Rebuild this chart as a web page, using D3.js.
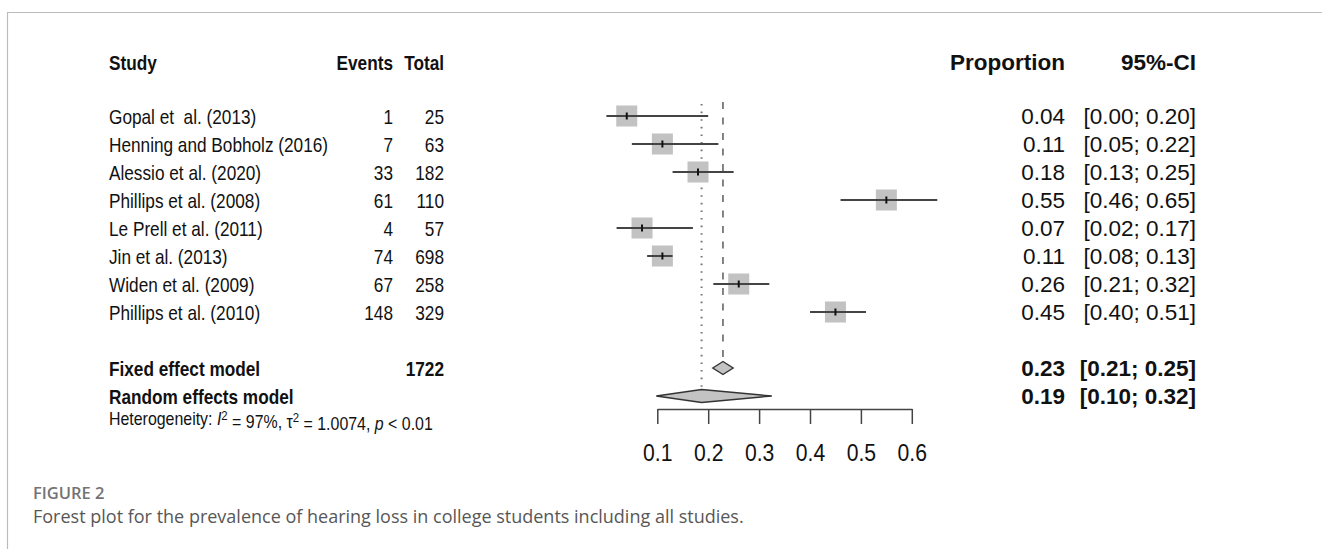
<!DOCTYPE html>
<html>
<head>
<meta charset="utf-8">
<script src="https://cdn.jsdelivr.net/npm/d3@7"></script>
<style>
  html, body { margin: 0; padding: 0; background: #fff; }
  svg text { white-space: pre; }
</style>
</head>
<body>
<svg id="chart" width="1322" height="549"></svg>
<script>
// study-level data
const studies = ["Gopal et  al. (2013)", "Henning and Bobholz (2016)", "Alessio et al. (2020)",
    "Phillips et al. (2008)", "Le Prell et al. (2011)", "Jin et al. (2013)",
    "Widen et al. (2009)", "Phillips et al. (2010)"];
const events = [1, 7, 33, 61, 4, 74, 67, 148];
const totals = [25, 63, 182, 110, 57, 698, 258, 329];
const proportion = [0.04, 0.11, 0.18, 0.55, 0.07, 0.11, 0.26, 0.45];
const ciLower = [0.00, 0.05, 0.13, 0.46, 0.02, 0.08, 0.21, 0.40];
const ciUpper = [0.20, 0.22, 0.25, 0.65, 0.17, 0.13, 0.32, 0.51];

// pooled estimates
const models = ["Fixed effect model", "Random effects model"];
const modelEst = [0.229, 0.187];
const modelLower = [0.209, 0.098];
const modelUpper = [0.249, 0.325];
const modelLabel = ["0.23", "0.19"];
const modelCI = ["[0.21; 0.25]", "[0.10; 0.32]"];
const totalN = 1722;

const axisTicks = [0.1, 0.2, 0.3, 0.4, 0.5, 0.6];

const svg = d3.select("#chart");
const font = "'Liberation Sans', Arial, sans-serif";
const fsLeft = 21, sxLeft = 0.82;   // left table is squeezed horizontally
const fsRight = 22.5;

// frame lines
svg.append("line").attr("x1", 7).attr("x2", 1322).attr("y1", 12.5).attr("y2", 12.5)
    .attr("stroke", "#bcbcbc").attr("stroke-width", 1.2);
svg.append("line").attr("x1", 7.5).attr("x2", 7.5).attr("y1", 12).attr("y2", 549)
    .attr("stroke", "#bcbcbc").attr("stroke-width", 1.2);

const x = d3.scaleLinear().domain([0.1, 0.6]).range([657.3, 911.8]);
const y = d3.scaleLinear().domain([0, 1]).range([116, 144]); // row index -> y
const yFixed = 368, yRandom = 396, yHead = 62;

const g = svg.append("g").style("font-family", font).attr("fill", "#111");

// left-hand text, condensed
function ltxt(xp, yp, s, anchor, bold) {
    return g.append("text")
        .attr("transform", `translate(${xp},${yp}) scale(${sxLeft},1)`)
        .attr("dy", "0.36em")
        .style("font-size", fsLeft + "px")
        .attr("text-anchor", anchor || "start")
        .attr("font-weight", bold ? "bold" : null)
        .text(s);
}
// right-hand text
function rtxt(xp, yp, s, bold) {
    return g.append("text").attr("x", xp).attr("y", yp).attr("dy", "0.36em")
        .style("font-size", fsRight + "px")
        .attr("text-anchor", "end")
        .attr("font-weight", bold ? "bold" : null)
        .text(s);
}

// headers
ltxt(109, yHead, "Study", "start", true);
ltxt(393, yHead, "Events", "end", true);
ltxt(444, yHead, "Total", "end", true);
rtxt(1065, yHead, "Proportion", true);
rtxt(1196, yHead, "95%-CI", true);

const fmt = d3.format(".2f");

studies.forEach((s, i) => {
    const yy = y(i);
    ltxt(109, yy, s);
    ltxt(393, yy, events[i], "end");
    ltxt(444, yy, totals[i], "end");
    rtxt(1065, yy, fmt(proportion[i]));
    rtxt(1196, yy, "[" + fmt(ciLower[i]) + "; " + fmt(ciUpper[i]) + "]");
});

// pooled rows text
[yFixed, yRandom].forEach((yy, i) => {
    ltxt(109, yy, models[i], "start", true);
    rtxt(1065, yy, modelLabel[i], true);
    rtxt(1196, yy, modelCI[i], true);
});
ltxt(444, yFixed, totalN, "end", true);

// heterogeneity line
const het = g.append("text")
    .attr("transform", "translate(109,419) scale(0.91,1)")
    .attr("dy", "0.36em")
    .style("font-size", "17.5px");
het.append("tspan").text("Heterogeneity: ");
het.append("tspan").attr("font-style", "italic").text("I");
het.append("tspan").attr("dy", "-0.45em").style("font-size", "12.5px").text("2");
het.append("tspan").attr("dy", "0.45em").text(" = 97%, \u03c4");
het.append("tspan").attr("dy", "-0.45em").style("font-size", "12.5px").text("2");
het.append("tspan").attr("dy", "0.45em").text(" = 1.0074, ");
het.append("tspan").attr("font-style", "italic").text("p");
het.append("tspan").text(" < 0.01");

// reference lines
svg.append("line").attr("x1", x(modelEst[1])).attr("x2", x(modelEst[1]))
    .attr("y1", 104).attr("y2", yRandom - 7)
    .attr("stroke", "#777").attr("stroke-width", 2).attr("stroke-dasharray", "1.6,6");
svg.append("line").attr("x1", x(modelEst[0])).attr("x2", x(modelEst[0]))
    .attr("y1", 102).attr("y2", yFixed - 8)
    .attr("stroke", "#666").attr("stroke-width", 1.6).attr("stroke-dasharray", "7,8.5");

// study boxes and CI
const box = 21;
const rows = svg.append("g");
studies.forEach((s, i) => {
    const yy = y(i);
    rows.append("rect")
        .attr("x", x(proportion[i]) - box / 2).attr("y", yy - box / 2)
        .attr("width", box).attr("height", box)
        .attr("fill", "#c2c2c2");
    rows.append("line")
        .attr("x1", x(ciLower[i])).attr("x2", x(ciUpper[i]))
        .attr("y1", yy).attr("y2", yy)
        .attr("stroke", "#444").attr("stroke-width", 2);
    rows.append("line")
        .attr("x1", x(proportion[i])).attr("x2", x(proportion[i]))
        .attr("y1", yy - 3.5).attr("y2", yy + 3.5)
        .attr("stroke", "#111").attr("stroke-width", 2);
});

// diamonds
[yFixed, yRandom].forEach((yy, i) => {
    const h = 6.5;
    const pts = [[x(modelLower[i]), yy], [x(modelEst[i]), yy - h],
                 [x(modelUpper[i]), yy], [x(modelEst[i]), yy + h]];
    svg.append("path").attr("d", d3.line()(pts) + "Z")
        .attr("fill", "#c3c3c3").attr("stroke", "#333").attr("stroke-width", 1.4);
});

// axis
const axis = svg.append("g").attr("transform", "translate(0,409)")
    .call(d3.axisBottom(x).tickValues(axisTicks).tickSize(15).tickSizeOuter(0)
        .tickFormat(d3.format(".1f")));
axis.select(".domain").attr("stroke", "#444").attr("stroke-width", 1.5);
axis.selectAll(".tick line").attr("stroke", "#444").attr("stroke-width", 1.5);
axis.selectAll(".tick text")
    .attr("y", 0).attr("dy", "0.36em")
    .attr("transform", "translate(0,43.5) scale(0.9,1)")
    .attr("fill", "#111")
    .style("font-family", font).style("font-size", "23.5px");

// caption
const cap = svg.append("g").style("font-family", "'Open Sans', Lato, sans-serif");
cap.append("text").attr("x", 33).attr("y", 498.5).attr("fill", "#737373")
    .style("font-size", "16.5px").attr("font-weight", 600).text("FIGURE 2");
cap.append("text").attr("x", 33).attr("y", 523).attr("fill", "#575757")
    .style("font-size", "18px")
    .text("Forest plot for the prevalence of hearing loss in college students including all studies.");
</script>
</body>
</html>
